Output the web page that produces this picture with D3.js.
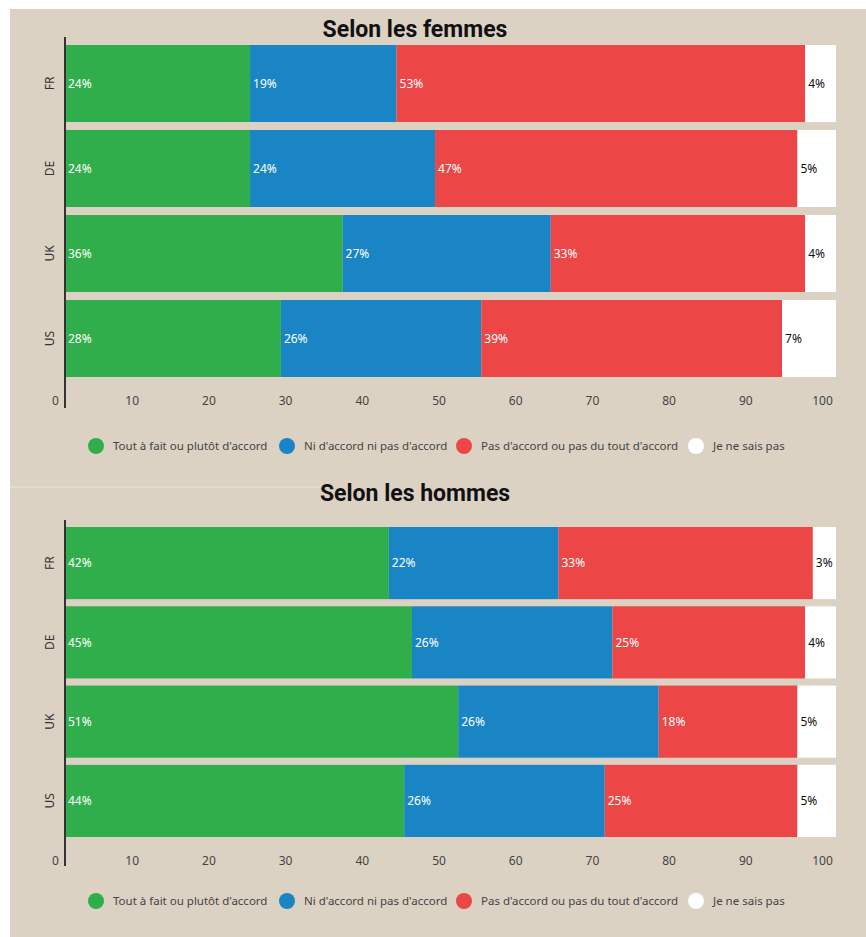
<!DOCTYPE html>
<html>
<head>
<meta charset="utf-8">
<script src="https://cdn.jsdelivr.net/npm/d3@7"></script>
<style>
  body { margin: 0; background: #fff; }
  text { font-family: "Noto Sans", sans-serif; }
</style>
</head>
<body>
<div id="chart"></div>
<script>
const countries = ["FR", "DE", "UK", "US"];
const answers = ["Tout à fait ou plutôt d'accord", "Ni d'accord ni pas d'accord", "Pas d'accord ou pas du tout d'accord", "Je ne sais pas"];
const colors = ["#30ae4b", "#1a85c4", "#ec4646", "#ffffff"];
const ticks = [0, 10, 20, 30, 40, 50, 60, 70, 80, 90, 100];

// values per country, in answer order
const femmes = [
  [24, 19, 53, 4],
  [24, 24, 47, 5],
  [36, 27, 33, 4],
  [28, 26, 39, 7]
];
const hommes = [
  [42, 22, 33, 3],
  [45, 26, 25, 4],
  [51, 26, 18, 5],
  [44, 26, 25, 5]
];

var width = 866, height = 937;

var svg = d3.select("#chart").append("svg")
    .attr("width", width)
    .attr("height", height);

svg.append("rect")
    .attr("x", 10).attr("y", 9)
    .attr("width", width - 10).attr("height", height - 9)
    .attr("fill", "#dbd2c4");

// faint seam between the two panels
svg.append("line")
    .attr("x1", 10).attr("x2", 330)
    .attr("y1", 487).attr("y2", 487)
    .attr("stroke", "#e9e3d9").attr("stroke-width", 1);

var x = d3.scaleLinear().domain([0, 100]).range([65, 836]);
var xAxisScale = d3.scaleLinear().domain([0, 100]).range([55, 822]);

function panel(title, data, opts) {
    var g = svg.append("g");

    g.append("text")
        .attr("x", 415).attr("y", opts.titleY)
        .attr("text-anchor", "middle")
        .style("font-family", "Roboto, sans-serif")
        .style("font-weight", "bold")
        .style("font-size", "23px")
        .style("fill", "#111")
        .text(title);

    var y = d3.scaleBand()
        .domain(countries)
        .range([opts.top, opts.bottom])
        .paddingInner(opts.pad)
        .paddingOuter(0);

    var rows = g.selectAll(".row")
        .data(data)
        .enter().append("g")
        .attr("class", "row")
        .attr("transform", function(d, i) { return "translate(0," + y(countries[i]) + ")"; });

    rows.each(function(vals) {
        var start = 0;
        var segs = vals.map(function(v, j) {
            var s = { v: v, j: j, x0: start, x1: start + v };
            start += v;
            return s;
        });
        var row = d3.select(this);
        row.selectAll("rect")
            .data(segs)
            .enter().append("rect")
            .attr("x", function(d) { return x(d.x0); })
            .attr("width", function(d) { return x(d.x1) - x(d.x0); })
            .attr("height", y.bandwidth())
            .attr("fill", function(d) { return colors[d.j]; });
        row.selectAll("text")
            .data(segs)
            .enter().append("text")
            .attr("x", function(d) { return x(d.x0) + 3; })
            .attr("y", y.bandwidth() / 2)
            .attr("dy", ".35em")
            .style("font-size", "12px")
            .style("fill", function(d) { return d.j === 3 ? "#111" : "#fff"; })
            .text(function(d) { return d.v + "%"; });
    });

    // country labels, rotated
    g.selectAll(".clabel")
        .data(countries)
        .enter().append("text")
        .attr("class", "clabel")
        .attr("transform", function(d) {
            return "translate(54," + (y(d) + y.bandwidth() / 2) + ") rotate(-90)";
        })
        .attr("text-anchor", "middle")
        .style("font-size", "12px")
        .style("fill", "#333")
        .text(function(d) { return d; });

    // vertical axis line
    g.append("line")
        .attr("x1", 65).attr("x2", 65)
        .attr("y1", opts.axisTop).attr("y2", opts.axisBottom)
        .attr("stroke", "#333").attr("stroke-width", 2);

    var ax = g.append("g")
        .attr("transform", "translate(0," + opts.tickY + ")")
        .call(d3.axisBottom(xAxisScale).tickValues(ticks).tickSize(0).tickPadding(0));
    ax.select(".domain").remove();
    ax.selectAll("text")
        .style("font-family", "'Noto Sans', sans-serif")
        .style("font-size", "12px")
        .style("fill", "#444");

    var legendX = [96, 287, 464, 696];
    var leg = g.selectAll(".legend")
        .data(answers)
        .enter().append("g")
        .attr("class", "legend")
        .attr("transform", function(d, i) { return "translate(" + legendX[i] + "," + opts.legendY + ")"; });
    leg.append("circle")
        .attr("r", 8)
        .attr("fill", function(d, i) { return colors[i]; });
    leg.append("text")
        .attr("x", 17)
        .attr("dy", ".35em")
        .style("font-size", "11.5px")
        .style("fill", "#444")
        .text(function(d) { return d; });
}

panel("Selon les femmes", femmes, {
    titleY: 37, top: 45, bottom: 377, pad: 0.094,
    axisTop: 37, axisBottom: 408, tickY: 396, legendY: 446
});
panel("Selon les hommes", hommes, {
    titleY: 501, top: 527, bottom: 837, pad: 0.09,
    axisTop: 520, axisBottom: 866, tickY: 856, legendY: 901
});
</script>
</body>
</html>
